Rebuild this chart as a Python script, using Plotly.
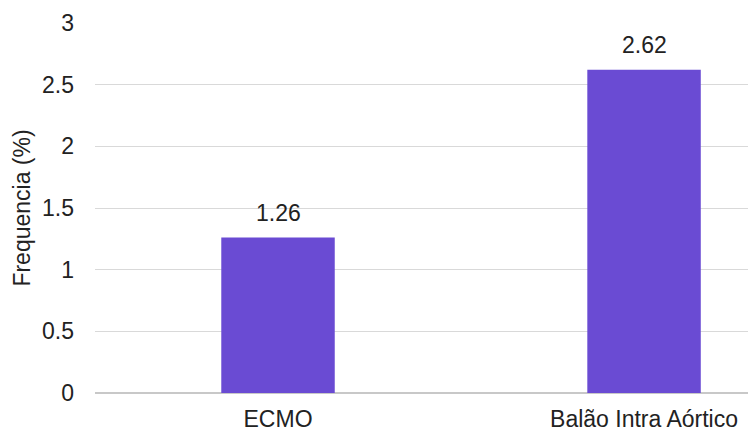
import plotly.graph_objects as go

categories = ["ECMO", "Balão Intra Aórtico"]
values = [1.26, 2.62]
labels = ["1.26", "2.62"]
y_ticks = [0, 0.5, 1, 1.5, 2, 2.5, 3]
y_tick_text = ["0", "0.5", "1", "1.5", "2", "2.5", "3"]

FONT = "Liberation Sans, Arial, sans-serif"
FS = 23
fig = go.Figure(go.Bar(
    x=categories, y=values,
    marker=dict(color="#6a4bd3", line=dict(width=0)), width=0.31, cliponaxis=False,
))
for c, v, t in zip(categories, values, labels):
    fig.add_annotation(x=c, y=v, text=t, showarrow=False, yanchor="bottom", yshift=10,
                       font=dict(size=FS, color="#222222", family=FONT))
fig.update_layout(
    width=748, height=432, margin=dict(l=95, r=0, t=23, b=39),
    paper_bgcolor="white", plot_bgcolor="white", showlegend=False,
    font=dict(family=FONT, size=FS, color="#222222"),
    xaxis=dict(type="category", range=[-0.5, 1.284], showgrid=False, showline=False,
               ticks="", ticklabelstandoff=10, tickfont=dict(size=FS, color="#222222")),
    yaxis=dict(range=[0, 3], tickvals=y_ticks, ticktext=y_tick_text, showgrid=True,
               gridcolor="#d9d9d9", gridwidth=1, zeroline=True, zerolinecolor="#c8c8c8",
               zerolinewidth=1.5, ticks="", ticklabelstandoff=20,
               tickfont=dict(size=FS, color="#222222"),
               title=dict(text="Frequencia (%)", standoff=4, font=dict(size=FS, color="#222222"))),
)
fig.write_html("out.html")
